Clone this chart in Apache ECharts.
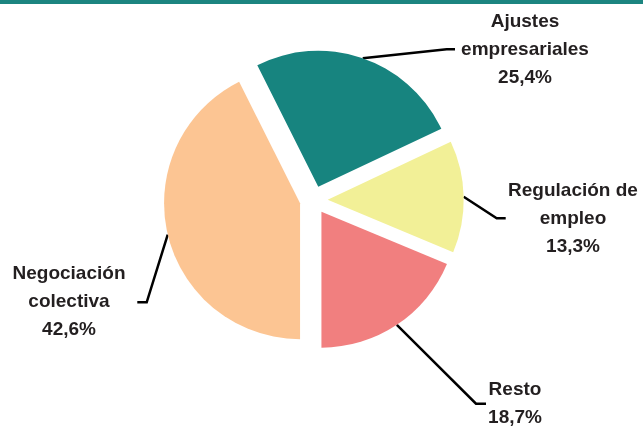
<!DOCTYPE html>
<html>
<head>
<meta charset="utf-8">
<script src="https://cdn.jsdelivr.net/npm/echarts@6/dist/echarts.min.js"></script>
<style>
  html, body { margin: 0; padding: 0; background: #ffffff; }
  #chart { width: 643px; height: 426px; }
</style>
</head>
<body>
<div id="chart"></div>
<script>
// Shares of each category (percent)
const categories = ['Negociación colectiva', 'Ajustes empresariales', 'Regulación de empleo', 'Resto'];
const labelNames = ['Negociación\ncolectiva', 'Ajustes\nempresariales', 'Regulación de\nempleo', 'Resto'];
const shares = [42.6, 25.4, 13.3, 18.7];
const sliceColors = ['#FCC593', '#17847F', '#F2F097', '#F17F7F'];

// Pie geometry
const CX = 313.7, CY = 200, RADIUS = 136, EXPLODE = 14, START_ANGLE = 270;

// Where each label block sits and how its leader line bends
const labelPlacement = [
  { x: 69,  y: 301.5, elbow: [146.7, 302.3], end: [137.3, 302.3] },
  { x: 525, y: 49.5,  elbow: [446.7, 49.3],  end: [455, 49.3] },
  { x: 573, y: 219,   elbow: [496.7, 218.3], end: [505.7, 218.3] },
  { x: 515, y: 404,   elbow: [476, 403.7],   end: [486, 403.7] }
];

const total = shares.reduce((a, b) => a + b, 0);
const midAngles = [];
let acc = 0;
shares.forEach(v => {
  midAngles.push(START_ANGLE - (acc + v / 2) / total * 360);
  acc += v;
});

const fmtPct = v => v.toFixed(1).replace('.', ',') + '%';

const chart = echarts.init(document.getElementById('chart'), null, { renderer: 'canvas' });

const pieData = categories.map((name, i) => ({ name: name, value: shares[i] }));

chart.setOption({
  animation: false,
  backgroundColor: '#ffffff',
  graphic: [{
    type: 'rect',
    left: 0, top: 0,
    shape: { width: 643, height: 4 },
    style: { fill: '#1C8580' },
    silent: true
  }],
  series: [
    // Exploded slices
    {
      type: 'pie',
      center: [CX, CY],
      radius: [0, RADIUS],
      startAngle: START_ANGLE,
      clockwise: true,
      selectedMode: 'multiple',
      selectedOffset: EXPLODE,
      emphasis: { disabled: true },
      silent: true,
      itemStyle: { borderWidth: 0 },
      label: { show: false },
      labelLine: { show: false },
      data: pieData.map((d, i) => ({
        name: d.name,
        value: d.value,
        selected: true,
        itemStyle: { color: sliceColors[i] }
      }))
    },
    // Category labels with leader lines
    {
      type: 'pie',
      center: [CX, CY],
      radius: [0, RADIUS + EXPLODE],
      startAngle: START_ANGLE,
      clockwise: true,
      selectedMode: false,
      emphasis: { disabled: true },
      silent: true,
      itemStyle: { color: 'rgba(0,0,0,0)', borderWidth: 0 },
      label: {
        show: true,
        position: 'outside',
        overflow: 'none',
        width: 200,
        color: '#231F20',
        fontFamily: '"Liberation Sans", Arial, sans-serif',
        fontWeight: 'bold',
        fontSize: 19,
        lineHeight: 28,
        align: 'center',
        formatter: p => labelNames[p.dataIndex] + '\n' + fmtPct(p.value)
      },
      labelLine: {
        show: true,
        lineStyle: { color: '#000000', width: 2.5 }
      },
      labelLayout: function (params) {
        const i = params.dataIndex;
        const place = labelPlacement[i];
        const a = midAngles[i] * Math.PI / 180;
        const r = RADIUS + EXPLODE;
        const start = [CX + r * Math.cos(a), CY - r * Math.sin(a)];
        return {
          x: place.x,
          y: place.y,
          align: 'center',
          verticalAlign: 'middle',
          labelLinePoints: [start, place.elbow, place.end]
        };
      },
      data: pieData
    }
  ]
});
</script>
</body>
</html>
